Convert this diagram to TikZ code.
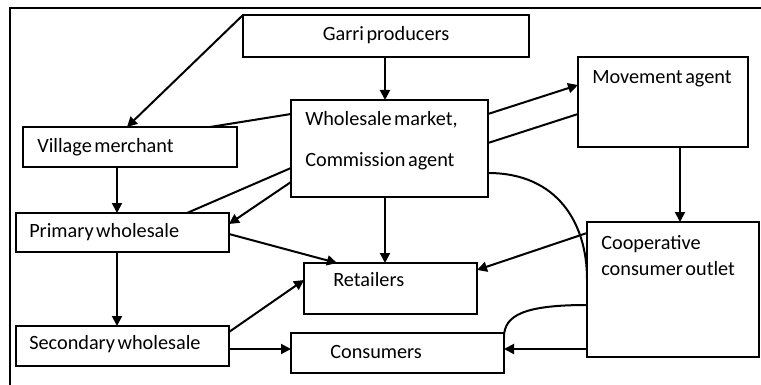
\documentclass[tikz,border=0pt]{standalone}
\usepackage{fontspec}
\setmainfont{Carlito}[WordSpace=0.55]
\usetikzlibrary{calc,arrows.meta}
\begin{document}
\begin{tikzpicture}[x=0.75pt,y=-0.75pt,
  box/.style n args={2}{draw, line width=0.9pt, minimum width=#1*0.75pt, minimum height=#2*0.75pt, anchor=north west, inner sep=0pt, outer sep=0pt},
  lbl/.style={anchor=west, inner sep=0pt, font=\fontsize{15.2}{18}\selectfont, text height=1.55ex, text depth=0.45ex},
  conn/.style={line width=1.5pt},
  arr/.style={conn, -{Triangle[length=7.5pt,width=7.5pt]}}]
\useasboundingbox (0,0) rectangle (761,385);
% frame
\coordinate (fa) at (761,8);
\coordinate (fb) at (10,8);
\coordinate (fc) at (10,385);
\draw[line width=1.2pt] (fa) -- (fb) -- (fc);
% boxes
\node[box={286}{42}] (gp) at (243,15) {};
\node[box={197}{97}] (wm) at (291,100) {};
\node[box={170}{90}] (ma) at (578,57) {};
\node[box={214}{40}] (vm) at (23,127) {};
\node[box={213}{39}] (pw) at (16,213) {};
\node[box={213}{40}] (sw) at (16,326) {};
\node[box={173}{51}] (rt) at (304,263) {};
\node[box={213}{40}] (cs) at (291,333) {};
\node[box={172}{135}] (co) at (587,222) {};
% labels
\node[lbl, anchor=center] (tgp) at (386,37) {Garri producers};
\node[lbl] (twm1) at (305,122) {Wholesale market,};
\node[lbl] (twm2) at (305,163) {Commission agent};
\node[lbl] (tma) at (592,80) {Movement agent};
\node[lbl] (tvm) at (37,149) {Village merchant};
\node[lbl] (tpw) at (29,234) {Primary wholesale};
\node[lbl] (tsw) at (29,346) {Secondary wholesale};
\node[lbl] (trt) at (333,283) {Retailers};
\node[lbl] (tcs) at (330,355) {Consumers};
\node[lbl] (tco1) at (601,246) {Cooperative};
\node[lbl] (tco2) at (601,272) {consumer outlet};
% connectors
\draw[arr] (gp.north west) -- ($(vm.north west)+(104,0)$);
\coordinate (a2) at ($(gp.south west)+(142,0)$);
\draw[arr] (a2) -- (a2 |- wm.north);
\draw[conn] ($(wm.north west)+(0,14)$) -- ($(vm.north west)+(187,0)$);
\draw[arr] ($(wm.north east)+(0,14)$) -- ($(ma.north west)+(0,28)$);
\draw[conn] ($(ma.north west)+(0,57)$) -- ($(wm.north east)+(0,43)$);
\draw[conn] ($(wm.north west)+(0,68)$) -- ($(pw.north west)+(171,0)$);
\draw[arr] ($(wm.north west)+(0,82)$) -- ($(pw.north east)+(0,11)$);
\coordinate (a8) at ($(vm.south west)+(94,0)$);
\draw[arr] (a8) -- (a8 |- pw.north);
\coordinate (a9) at ($(pw.south west)+(101,0)$);
\draw[arr] (a9) -- (a9 |- sw.north);
\draw[arr] ($(pw.north east)+(0,21)$) -- ($(rt.north west)+(33,0)$);
\draw[arr] ($(sw.north east)+(0,6)$) -- ($(rt.north west)+(0,17)$);
\coordinate (a12) at ($(sw.north east)+(0,23)$);
\draw[arr] (a12) -- (a12 -| cs.west);
\coordinate (a13) at ($(wm.south west)+(94,0)$);
\draw[arr] (a13) -- (a13 |- rt.north);
\coordinate (a14) at ($(ma.south west)+(102,0)$);
\draw[arr] (a14) -- (a14 |- co.north);
\draw[arr] ($(co.north west)+(0,11)$) -- ($(rt.north east)+(0,7)$);
\draw[conn] ($(wm.north east)+(0,73)$) .. controls +(70,0) and +(0,-55) .. ($(co.north west)+(0,57)$);
\draw[conn] ($(co.north west)+(0,83)$) .. controls +(-62,0) and +(0,-22) .. ($(cs.north east)+(0,4)$);
\coordinate (a18) at ($(co.south west)+(0,-8)$);
\draw[arr] (a18) -- (a18 -| cs.east);
\end{tikzpicture}
\end{document}
